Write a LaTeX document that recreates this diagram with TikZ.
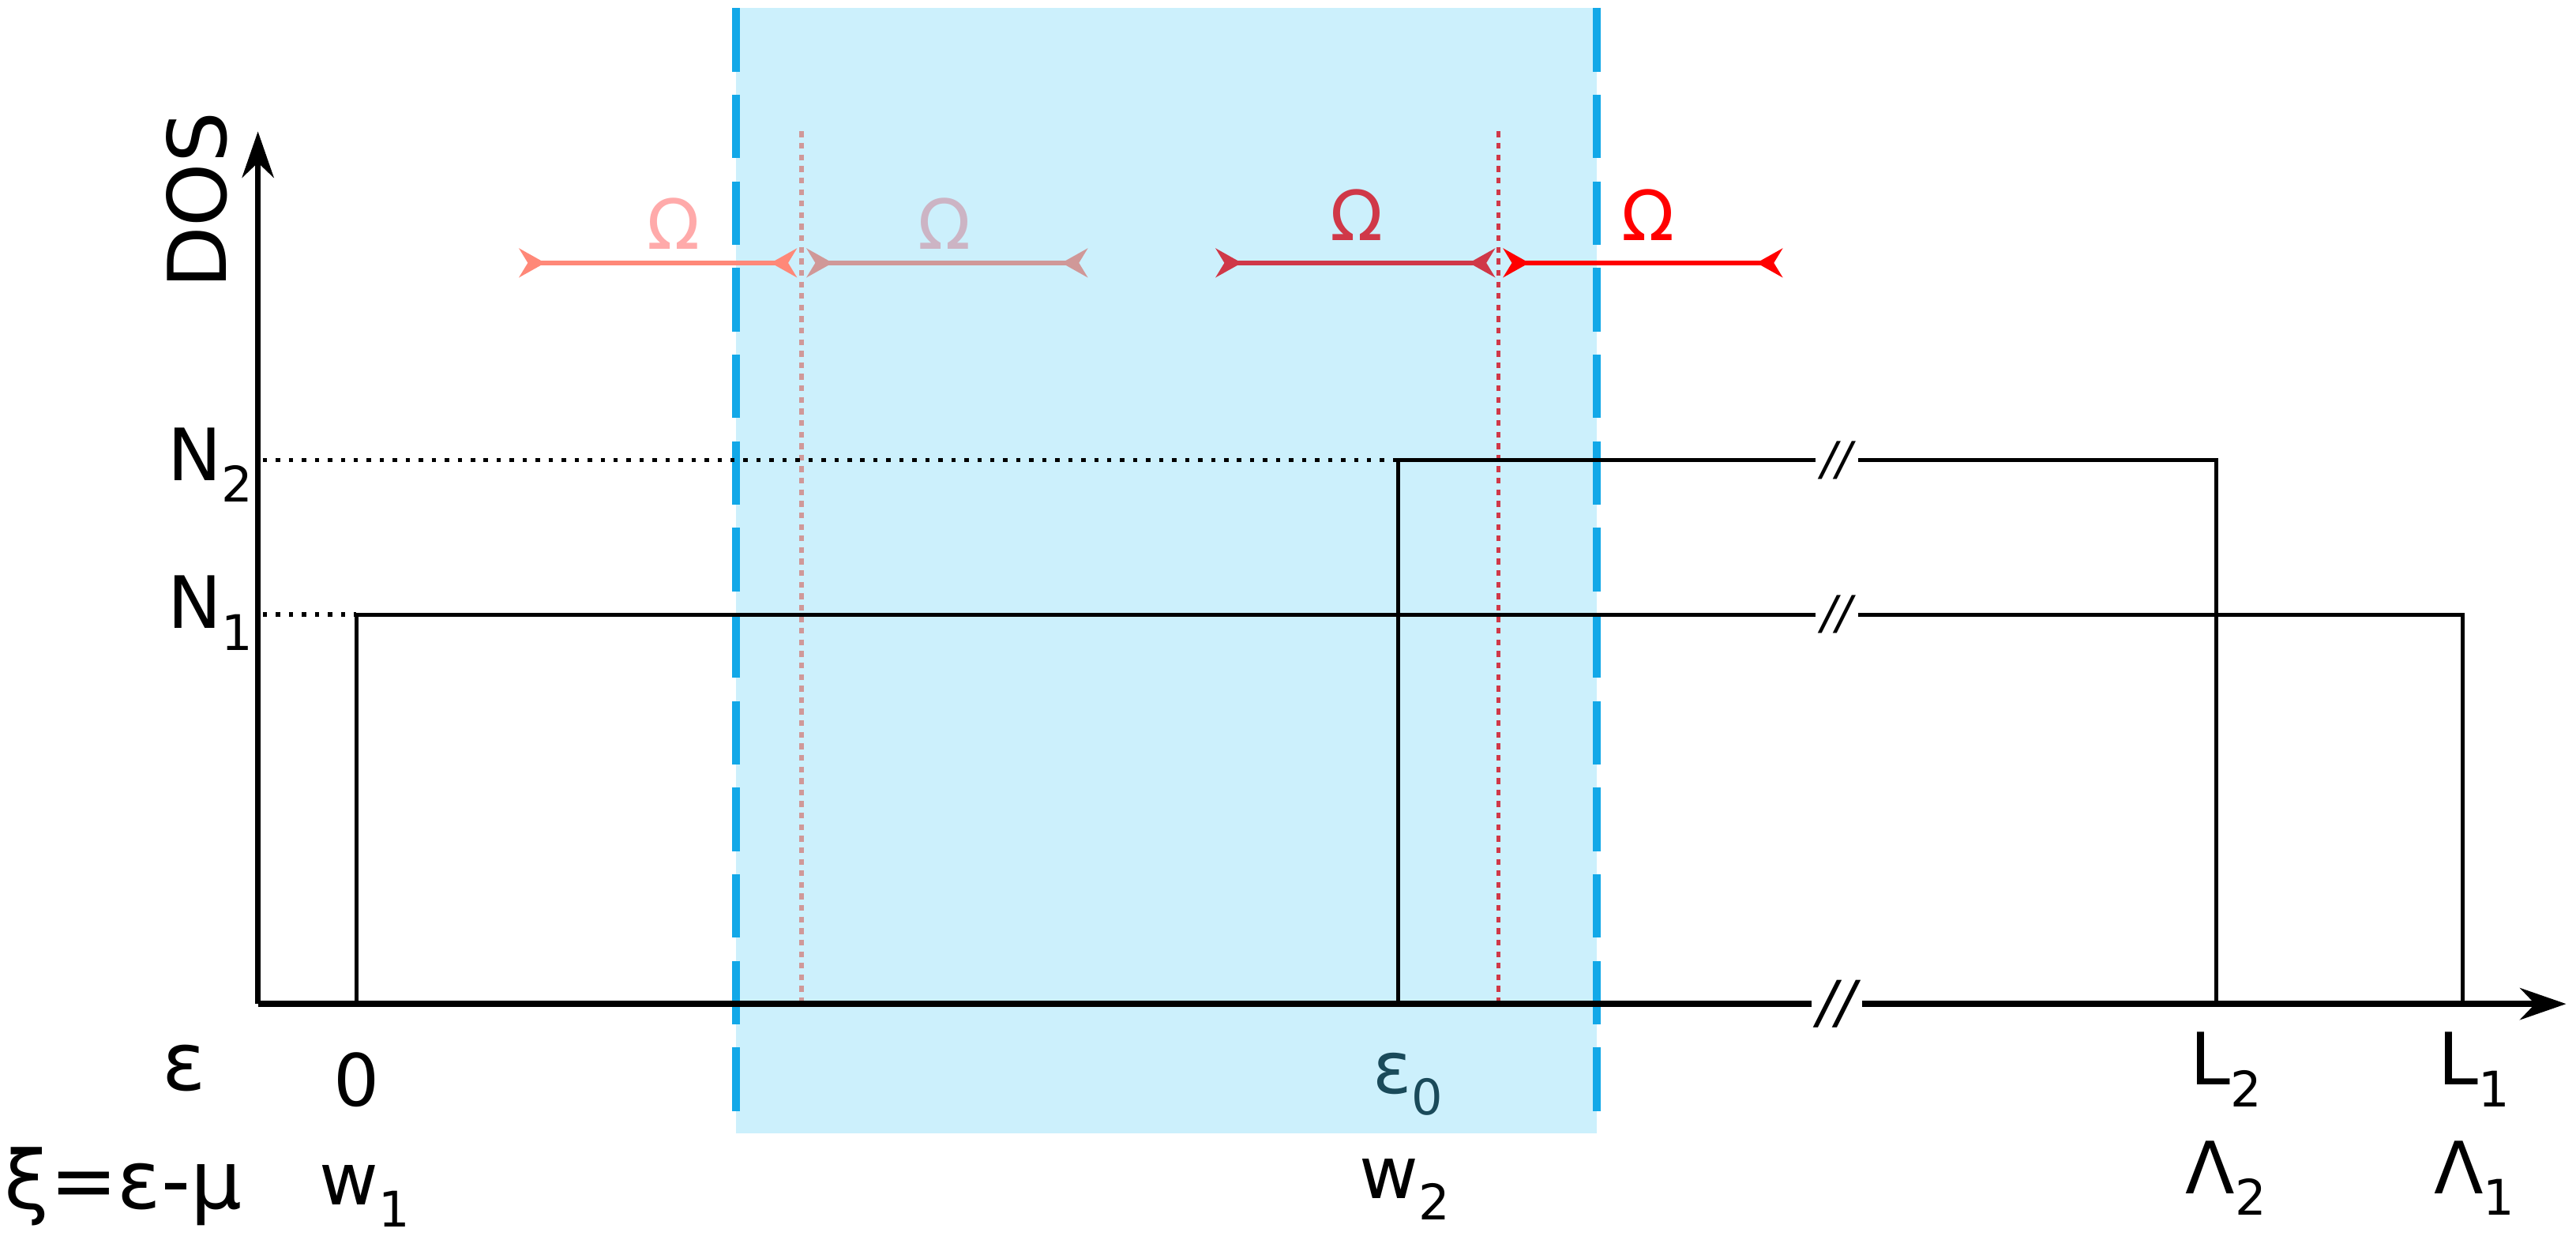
\documentclass[tikz,border=0pt]{standalone}
\usepackage{fontspec}
\setmainfont{DejaVu Sans}
\usetikzlibrary{arrows.meta}
\definecolor{bfill}{HTML}{CCF0FC}
\definecolor{bline}{HTML}{12A8E8}
\definecolor{salm}{HTML}{FF8878}
\definecolor{gpink}{HTML}{D09898}
\definecolor{dred}{HTML}{D03848}
\definecolor{omA}{HTML}{FFAAAA}
\definecolor{omB}{HTML}{CCB4C4}
\definecolor{epsc}{HTML}{1A4A5A}
\newcommand{\sbs}[1]{\raisebox{-0.3em}{\fontsize{17}{17}\selectfont #1}}
\tikzset{
 lbl/.style={font=\fontsize{25}{30}\selectfont, inner sep=0pt},
 om/.style={font=\fontsize{24}{28}\selectfont, inner sep=0pt},
 omarrow/.style={line width=1.8pt, {Stealth[reversed,length=9pt,width=10pt,inset=3pt]}-{Stealth[reversed,length=9pt,width=10pt,inset=3pt]}},
 brk/.style={fill=white, inner sep=2pt, font=\fontsize{16}{16}\selectfont\itshape},
 box/.style={line width=1.4pt}
}
\begin{document}
\begin{tikzpicture}[x=0.02cm,y=-0.02cm]
\useasboundingbox (0,0) rectangle (1568,752);
\fill[bfill] (448,5) rectangle (972,690);
\draw[bline, line width=2.8pt, dash pattern=on 22pt off 8pt] (448,5) -- (448,690);
\draw[bline, line width=2.8pt, dash pattern=on 22pt off 8pt] (972,5) -- (972,690);
\draw[gpink, line width=1.5pt, dash pattern=on 2pt off 2pt] (488,80) -- (488,611);
\draw[dred, line width=1.5pt, dash pattern=on 2pt off 2pt] (912,80) -- (912,611);
\coordinate (O) at (157,611);
\coordinate (ytop) at (157,80);
\coordinate (xend) at (1562,611);
\draw[line width=2pt, -{Stealth[length=16pt,width=11pt]}] (O) -- (ytop);
\draw[line width=2pt, -{Stealth[length=16pt,width=11pt]}] (O) -- (xend);
\coordinate (a1) at (217,611); \coordinate (a2) at (217,374);
\coordinate (a3) at (1499,374); \coordinate (a4) at (1499,611);
\draw[box] (a1) -- (a2) -- (a3) -- (a4);
\coordinate (b1) at (851,611); \coordinate (b2) at (851,280);
\coordinate (b3) at (1349,280); \coordinate (b4) at (1349,611);
\draw[box] (b1) -- (b2) -- (b3) -- (b4);
\draw[line width=1.5pt, dash pattern=on 1.5pt off 3pt] (160,374) -- (a2);
\draw[line width=1.5pt, dash pattern=on 1.5pt off 3pt] (160,280) -- (b2);
\node[brk] (k1) at (1118,280) {//};
\node[brk] (k2) at (1118,374) {//};
\node[brk, font=\fontsize{20}{20}\selectfont\itshape] (k3) at (1118,611) {//};
\coordinate (p1) at (316,160); \coordinate (p2) at (485,160);
\coordinate (p3) at (491,160); \coordinate (p4) at (662,160);
\coordinate (p5) at (740,160); \coordinate (p6) at (910,160);
\coordinate (p7) at (915,160); \coordinate (p8) at (1085,160);
\draw[omarrow, salm] (p1) -- (p2);
\draw[omarrow, gpink] (p3) -- (p4);
\draw[omarrow, dred] (p5) -- (p6);
\draw[omarrow, red] (p7) -- (p8);
\node[om, text=omA] (o1) at (410,136) {Ω};
\node[om, text=omB] (o2) at (575,136) {Ω};
\node[om, text=dred] (o3) at (826,131) {Ω};
\node[om, text=red] (o4) at (1003,131) {Ω};
\node[lbl, rotate=90, font=\fontsize{28}{30}\selectfont] (dos) at (120,122) {DOS};
\node[lbl] (n2) at (128,283) {N\sbs{2}};
\node[lbl] (n1) at (128,373) {N\sbs{1}};
\node[lbl, font=\fontsize{28}{30}\selectfont] (eps) at (112,650) {ε};
\node[lbl] (zero) at (217,657) {0};
\node[lbl, text=epsc] (e0) at (857,660) {ε\sbs{0}};
\node[lbl] (l2) at (1355,651) {L\sbs{2}};
\node[lbl] (l1) at (1506,651) {L\sbs{1}};
\node[lbl, font=\fontsize{28}{30}\selectfont] (xi) at (75,722) {ξ=ε-μ};
\node[lbl] (w1) at (222,728) {w\sbs{1}};
\node[lbl] (w2) at (855,724) {w\sbs{2}};
\node[lbl] (lam2) at (1355,717) {Λ\sbs{2}};
\node[lbl] (lam1) at (1506,717) {Λ\sbs{1}};
\end{tikzpicture}
\end{document}
